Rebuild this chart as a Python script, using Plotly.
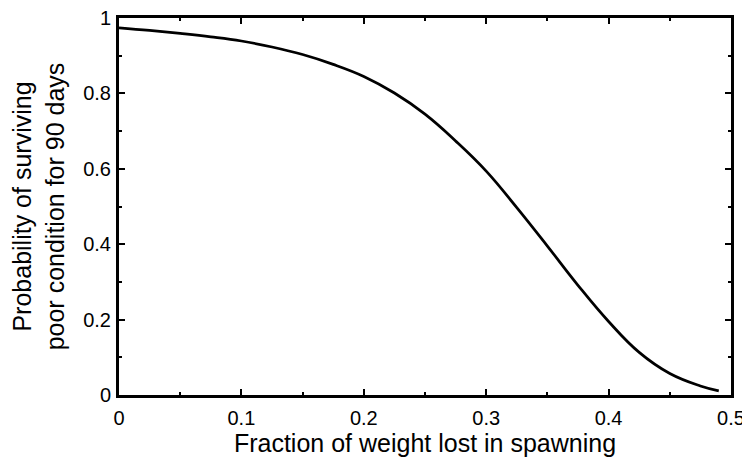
import plotly.graph_objects as go

fraction_lost = [0.0, 0.025, 0.05, 0.075, 0.10, 0.125, 0.15, 0.175, 0.20, 0.225, 0.25, 0.275,
                 0.30, 0.325, 0.35, 0.375, 0.40, 0.425, 0.45, 0.475, 0.49]
survival_prob = [0.974, 0.967, 0.959, 0.950, 0.939, 0.923, 0.903, 0.877, 0.845, 0.801, 0.745, 0.674,
                 0.594, 0.497, 0.395, 0.291, 0.195, 0.113, 0.057, 0.024, 0.011]

x_ticks = [0, 0.1, 0.2, 0.3, 0.4, 0.5]
y_ticks = [0, 0.2, 0.4, 0.6, 0.8, 1]

font_family = "Liberation Sans, Arial, sans-serif"

fig = go.Figure()
fig.add_trace(go.Scatter(x=fraction_lost, y=survival_prob, mode="lines",
                         line=dict(color="black", width=2.7, shape="spline", smoothing=1.2),
                         showlegend=False, hoverinfo="skip"))

axis_common = dict(showline=True, linecolor="black", linewidth=3, mirror="ticks",
                   ticks="inside", ticklen=6, tickwidth=2, tickcolor="black",
                   showgrid=False, zeroline=False, automargin=False,
                   ticklabeloverflow="allow",
                   tickfont=dict(family=font_family, size=20, color="black"))

fig.update_xaxes(range=[0, 0.5], tickvals=x_ticks, ticktext=[str(t) for t in x_ticks],
                 minor=dict(dtick=0.05, ticks="inside", ticklen=3, tickwidth=2, tickcolor="black", showgrid=False),
                 ticklabelstandoff=3,
                 title=dict(text="Fraction of weight lost in spawning",
                            font=dict(family=font_family, size=25, color="black"), standoff=0),
                 **axis_common)
fig.update_yaxes(range=[0, 1], tickvals=y_ticks, ticktext=[str(t) for t in y_ticks],
                 minor=dict(dtick=0.1, ticks="inside", ticklen=3, tickwidth=2, tickcolor="black", showgrid=False),
                 ticklabelstandoff=1,
                 title=dict(text="Probability of surviving<br>poor condition for 90 days",
                            font=dict(family=font_family, size=25, color="black"), standoff=15),
                 **axis_common)

fig.update_layout(width=742, height=454, margin=dict(l=111, r=19, t=10, b=67),
                  plot_bgcolor="white", paper_bgcolor="white",
                  font=dict(family=font_family, color="black"))

fig.write_html("out.html")
